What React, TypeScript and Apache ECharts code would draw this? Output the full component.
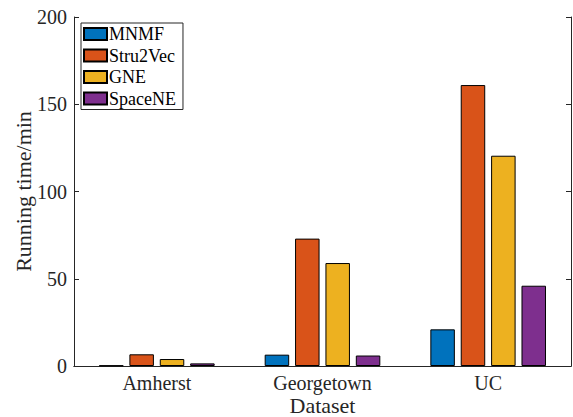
import React, { useEffect, useRef } from "react";
import * as echarts from "echarts";

const categories = ["Amherst", "Georgetown", "UC"];
const seriesNames = ["MNMF", "Stru2Vec", "GNE", "SpaceNE"];
const mnmf = [0.3, 6.5, 21];
const stru2vec = [6.7, 73, 161];
const gne = [4, 59, 120.5];
const spacene = [1.5, 6, 46];
const colors = ["#0072BD", "#D95319", "#EDB120", "#7E2F8E"];
const yTicks = [0, 50, 100, 150, 200];

export default function App() {
  const ref = useRef<HTMLDivElement>(null);
  useEffect(() => {
    if (!ref.current) return;
    const chart = echarts.init(ref.current, undefined, { renderer: "svg" });
    const font = "Liberation Serif, Times New Roman, serif";
    const axisColor = "#262626";
    const data = [mnmf, stru2vec, gne, spacene];
    chart.setOption({
      animation: false,
      textStyle: { fontFamily: font },
      grid: { left: 74, right: 2, top: 17, bottom: 51, containLabel: false, outerBoundsMode: "none" },
      legend: {
        orient: "vertical",
        left: 81,
        top: 23,
        data: seriesNames.map((n) => ({ name: n, icon: "rect" })),
        itemWidth: 23,
        itemHeight: 12,
        itemGap: 3.5,
        padding: [2, 7, 2, 2],
        borderColor: axisColor,
        borderWidth: 1,
        backgroundColor: "#fff",
        textStyle: { fontFamily: font, fontSize: 18, lineHeight: 18, color: "#000", padding: [0, 0, 0, -3] },
      },
      xAxis: [
        {
          type: "category",
          data: categories,
          position: "bottom",
          name: "Dataset",
          nameLocation: "middle",
          nameGap: 28,
          nameMoveOverlap: false,
          nameTextStyle: { fontFamily: font, fontSize: 22, color: axisColor },
          axisLine: { lineStyle: { color: axisColor, width: 1 } },
          axisTick: { alignWithLabel: true, inside: true, length: 4, lineStyle: { color: axisColor } },
          axisLabel: { fontFamily: font, fontSize: 20, color: axisColor, margin: 7 },
        },
        {
          type: "category",
          data: categories,
          position: "top",
          axisLine: { lineStyle: { color: axisColor, width: 1 } },
          axisTick: { alignWithLabel: true, inside: true, length: 4, lineStyle: { color: axisColor } },
          axisLabel: { show: false },
        },
      ],
      yAxis: [
        {
          type: "value",
          min: yTicks[0],
          max: yTicks[yTicks.length - 1],
          interval: 50,
          name: "Running time/min",
          nameLocation: "middle",
          nameGap: 40,
          nameMoveOverlap: false,
          nameTextStyle: { fontFamily: font, fontSize: 22, color: axisColor },
          axisLine: { show: true, lineStyle: { color: axisColor, width: 1 } },
          axisTick: { show: true, inside: true, length: 5, lineStyle: { color: axisColor } },
          axisLabel: { fontFamily: font, fontSize: 20, color: axisColor, margin: 7 },
          splitLine: { show: false },
        },
        {
          type: "value",
          min: yTicks[0],
          max: yTicks[yTicks.length - 1],
          interval: 50,
          position: "right",
          axisLine: { show: true, lineStyle: { color: axisColor, width: 1 } },
          axisTick: { show: true, inside: true, length: 5, lineStyle: { color: axisColor } },
          axisLabel: { show: false },
          splitLine: { show: false },
        },
      ],
      series: seriesNames.map((name, i) => ({
        name,
        type: "bar",
        data: data[i],
        barWidth: 24.5,
        barGap: "24%",
        itemStyle: { color: colors[i], borderColor: "#000", borderWidth: 1 },
      })),
    });
    return () => chart.dispose();
  }, []);
  return <div ref={ref} style={{ width: 573, height: 417, position: "absolute", left: 0, top: 0 }} />;
}
